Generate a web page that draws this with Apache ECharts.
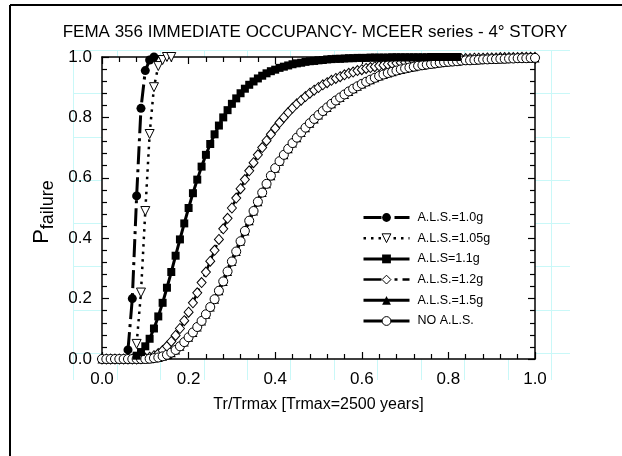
<!DOCTYPE html>
<html><head><meta charset="utf-8">
<script src="https://cdn.jsdelivr.net/npm/echarts@6/dist/echarts.min.js"></script>
<style>html,body{margin:0;padding:0;background:#fff}#c{width:622px;height:456px}</style>
</head><body><div id="c"></div>
<script>
const titleText = 'FEMA 356 IMMEDIATE OCCUPANCY- MCEER series - 4\u00b0 STORY';
const xAxisName = 'Tr/Trmax [Trmax=2500 years]';
const seriesNames = ['A.L.S.=1.0g', 'A.L.S.=1.05g', 'A.L.S=1.1g', 'A.L.S.=1.2g', 'A.L.S.=1.5g', 'NO A.L.S.'];

const xAls10 = [0.06, 0.07, 0.08, 0.09, 0.10, 0.11, 0.12];
const yAls10 = [0.03, 0.20, 0.54, 0.83, 0.955, 0.99, 1.0];

const xAls105 = [0.08, 0.09, 0.10, 0.11, 0.12, 0.13, 0.14, 0.15, 0.16];
const yAls105 = [0.05, 0.22, 0.49, 0.745, 0.90, 0.97, 0.99, 1.0, 1.0];

const xGrid = [
  0.00,0.01,0.02,0.03,0.04,0.05,0.06,0.07,0.08,0.09,
  0.10,0.11,0.12,0.13,0.14,0.15,0.16,0.17,0.18,0.19,
  0.20,0.21,0.22,0.23,0.24,0.25,0.26,0.27,0.28,0.29,
  0.30,0.31,0.32,0.33,0.34,0.35,0.36,0.37,0.38,0.39,
  0.40,0.41,0.42,0.43,0.44,0.45,0.46,0.47,0.48,0.49,
  0.50,0.51,0.52,0.53,0.54,0.55,0.56,0.57,0.58,0.59,
  0.60,0.61,0.62,0.63,0.64,0.65,0.66,0.67,0.68,0.69,
  0.70,0.71,0.72,0.73,0.74,0.75,0.76,0.77,0.78,0.79,
  0.80,0.81,0.82,0.83,0.84,0.85,0.86,0.87,0.88,0.89,
  0.90,0.91,0.92,0.93,0.94,0.95,0.96,0.97,0.98,0.99,
  1.00];

// A.L.S=1.1g : x from 0.08 to 0.82
const xAls11 = [
  0.08,0.09,0.10,0.11,0.12,0.13,0.14,0.15,0.16,0.17,0.18,0.19,
  0.20,0.21,0.22,0.23,0.24,0.25,0.26,0.27,0.28,0.29,
  0.30,0.31,0.32,0.33,0.34,0.35,0.36,0.37,0.38,0.39,
  0.40,0.41,0.42,0.43,0.44,0.45,0.46,0.47,0.48,0.49,
  0.50,0.51,0.52,0.53,0.54,0.55,0.56,0.57,0.58,0.59,
  0.60,0.61,0.62,0.63,0.64,0.65,0.66,0.67,0.68,0.69,
  0.70,0.71,0.72,0.73,0.74,0.75,0.76,0.77,0.78,0.79,
  0.80,0.81,0.82];
const yAls11 = [
  0.011,0.023,0.042,0.067,0.101,0.141,0.186,0.236,0.288,0.342,0.396,0.449,
  0.500,0.549,0.594,0.637,0.676,0.712,0.744,0.773,0.800,0.824,
  0.845,0.863,0.880,0.895,0.908,0.919,0.929,0.938,0.946,0.953,
  0.958,0.964,0.968,0.972,0.976,0.979,0.981,0.984,0.986,0.987,
  0.989,0.990,0.992,0.993,0.994,0.994,0.995,0.996,0.996,0.997,
  0.997,0.997,0.998,0.998,0.998,0.998,0.998,0.999,0.999,0.999,
  0.999,0.999,0.999,0.999,0.999,0.999,1.0,1.0,1.0,1.0,
  1.0,1.0,1.0];

const yAls12 = [
  0,0,0,0,0,0,0,0,0,0.001,
  0.003,0.006,0.011,0.018,0.028,0.042,0.058,0.078,0.101,0.127,
  0.155,0.186,0.219,0.253,0.288,0.324,0.360,0.396,0.431,0.466,
  0.500,0.533,0.564,0.594,0.623,0.650,0.676,0.700,0.723,0.744,
  0.764,0.783,0.800,0.816,0.831,0.845,0.857,0.869,0.880,0.890,
  0.899,0.908,0.915,0.923,0.929,0.935,0.941,0.946,0.950,0.955,
  0.958,0.962,0.965,0.968,0.971,0.973,0.976,0.978,0.980,0.981,
  0.983,0.984,0.986,0.987,0.988,0.989,0.990,0.991,0.992,0.992,
  0.993,0.993,0.994,0.994,0.995,0.995,0.996,0.996,0.996,0.997,
  0.997,0.997,0.998,0.998,0.998,0.998,0.998,0.999,0.999,0.999,
  0.999];

const yNoAls = [
  0,0,0,0,0,0,0,0,0,0,
  0,0.001,0.003,0.005,0.009,0.014,0.021,0.030,0.042,0.056,
  0.072,0.088,0.106,0.126,0.148,0.172,0.198,0.226,0.257,0.290,
  0.323,0.356,0.390,0.424,0.458,0.490,0.521,0.551,0.580,0.607,
  0.632,0.655,0.676,0.696,0.715,0.733,0.750,0.766,0.781,0.795,
  0.808,0.821,0.833,0.845,0.856,0.866,0.876,0.886,0.895,0.903,
  0.911,0.918,0.925,0.931,0.937,0.942,0.947,0.951,0.955,0.959,
  0.962,0.965,0.968,0.971,0.973,0.975,0.977,0.979,0.981,0.983,
  0.984,0.985,0.986,0.988,0.989,0.989,0.990,0.991,0.992,0.992,
  0.993,0.993,0.994,0.994,0.995,0.995,0.996,0.996,0.996,0.997,
  0.997];

// A.L.S.=1.5g lies under the NO A.L.S. curve (not distinguishable)
const yAls15 = yNoAls;

// faint page grid of the source drawing (pixel positions, decoration only)
const pageGridX = [73, 117, 160, 204, 247, 290, 334, 377, 421, 464, 508, 551];
const pageGridY = [50, 93, 137, 180, 223, 266, 310, 353];

const FONT = '"Liberation Sans", Arial, Helvetica, sans-serif';
function pairs(xs, ys) { return ys.map((y, i) => [xs[i], y]); }

const PL = 102, PT = 57, PR = 535, PB = 359;
const GX0 = 73, GX1 = 570, GY0 = 50, GY1 = 380;
const CYAN = '#c9f8f8';
const gridDeco = [];
function seg(x1, y1, x2, y2) {
  gridDeco.push({ type: 'line', z: -10, silent: true, shape: { x1, y1, x2, y2 }, style: { stroke: CYAN, lineWidth: 1 } });
}
pageGridX.forEach(x => {
  if (x < PL || x > PR) seg(x + 0.5, GY0, x + 0.5, GY1);
  else { seg(x + 0.5, GY0, x + 0.5, PT); seg(x + 0.5, PB, x + 0.5, GY1); }
});
pageGridY.forEach(y => {
  if (y < PT || y > PB) seg(GX0, y + 0.5, GX1, y + 0.5);
  else { seg(GX0, y + 0.5, PL, y + 0.5); seg(PR, y + 0.5, GX1, y + 0.5); }
});

const chart = echarts.init(document.getElementById('c'));
const axisCommon = {
  type: 'value', min: 0, max: 1, interval: 0.2,
  axisLine: { show: true, onZero: false, lineStyle: { color: '#000', width: 1.5 } },
  axisTick: { show: true, inside: true, length: 7, lineStyle: { color: '#000', width: 1.2 } },
  minorTick: { show: true, splitNumber: 5, length: 5, lineStyle: { color: '#000', width: 1.2 } },
  splitLine: { show: false }, minorSplitLine: { show: false }
};
const labelStyle = { color: '#000', fontFamily: FONT, fontSize: 17, formatter: v => v.toFixed(1) };

const option = {
  animation: false,
  backgroundColor: '#fff',
  title: {
    text: titleText, left: 315, top: 24, textAlign: 'center', padding: 0,
    textStyle: { fontFamily: FONT, fontSize: 17, fontWeight: 'normal', color: '#000' }
  },
  grid: { left: PL, top: PT, width: PR - PL, height: PB - PT },
  legend: {
    orient: 'vertical', left: 362, top: 211, padding: 0,
    itemWidth: 46, itemHeight: 11, itemGap: 7.7, selectedMode: false,
    data: seriesNames,
    lineStyle: { width: 'inherit' },
    itemStyle: { borderWidth: 1 },
    textStyle: { fontFamily: FONT, fontSize: 12.5, color: '#000', padding: [0, 0, 0, 3] }
  },
  graphic: gridDeco.concat([
    { type: 'line', shape: { x1: 10, y1: 5, x2: 10, y2: 456 }, style: { stroke: '#000', lineWidth: 2 } },
    { type: 'line', shape: { x1: 10, y1: 5, x2: 622, y2: 5 }, style: { stroke: '#000', lineWidth: 2 } }
  ]),
  xAxis: [
    Object.assign({}, axisCommon, {
      position: 'bottom', name: xAxisName, nameLocation: 'middle', nameGap: 38,
      nameTextStyle: { fontFamily: FONT, fontSize: 16, color: '#000' },
      axisLabel: Object.assign({ margin: 12 }, labelStyle)
    }),
    Object.assign({}, axisCommon, { position: 'top', axisLabel: { show: false } })
  ],
  yAxis: [
    Object.assign({}, axisCommon, {
      position: 'left', name: '{p|P}{s|failure}', nameLocation: 'middle', nameRotate: 90, nameGap: 26,
      nameTextStyle: {
        color: '#000', fontFamily: FONT, padding: [0, 8, 0, 0],
        rich: {
          p: { fontFamily: FONT, fontSize: 22, color: '#000', lineHeight: 22, verticalAlign: 'top' },
          s: { fontFamily: FONT, fontSize: 18, color: '#000', lineHeight: 27, verticalAlign: 'bottom' }
        }
      },
      axisLabel: Object.assign({ margin: 10 }, labelStyle)
    }),
    Object.assign({}, axisCommon, { position: 'right', axisLabel: { show: false } })
  ],
  series: [
    {
      name: 'A.L.S.=1.5g', type: 'line', data: pairs(xGrid, yAls15), clip: false,
      symbol: 'triangle', symbolSize: 9, itemStyle: { color: '#000' },
      lineStyle: { color: '#000', width: 3 }
    },
    {
      name: 'A.L.S.=1.2g', type: 'line', data: pairs(xGrid, yAls12), clip: false,
      symbol: 'diamond', symbolSize: [9, 10],
      itemStyle: { color: '#fff', borderColor: '#000', borderWidth: 1 },
      lineStyle: { color: '#000', width: 2.5, type: [18, 5, 3, 5, 3, 5] }
    },
    {
      name: 'NO A.L.S.', type: 'line', data: pairs(xGrid, yNoAls), clip: false,
      symbol: 'circle', symbolSize: 9,
      itemStyle: { color: '#fff', borderColor: '#000', borderWidth: 1 },
      lineStyle: { color: '#000', width: 3 }
    },
    {
      name: 'NO A.L.S. line', type: 'line', data: pairs(xGrid, yNoAls), clip: false,
      showSymbol: false, symbol: 'none',
      lineStyle: { color: '#000', width: 1 }
    },
    {
      name: 'A.L.S=1.1g', type: 'line', data: pairs(xAls11, yAls11), clip: false,
      symbol: 'rect', symbolSize: 8, itemStyle: { color: '#000' },
      lineStyle: { color: '#000', width: 3 }
    },
    {
      name: 'A.L.S.=1.05g', type: 'line', data: pairs(xAls105, yAls105), clip: false,
      symbol: 'triangle', symbolRotate: 180, symbolSize: 9,
      itemStyle: { color: '#fff', borderColor: '#000', borderWidth: 1 },
      lineStyle: { color: '#000', width: 2.5, type: [2.5, 5] }
    },
    {
      name: 'A.L.S.=1.0g', type: 'line', data: pairs(xAls10, yAls10), clip: false,
      symbol: 'circle', symbolSize: 9, itemStyle: { color: '#000' },
      lineStyle: { color: '#000', width: 3, type: [18, 5, 3, 5] }
    }
  ]
};
chart.setOption(option);
</script>
</body></html>
